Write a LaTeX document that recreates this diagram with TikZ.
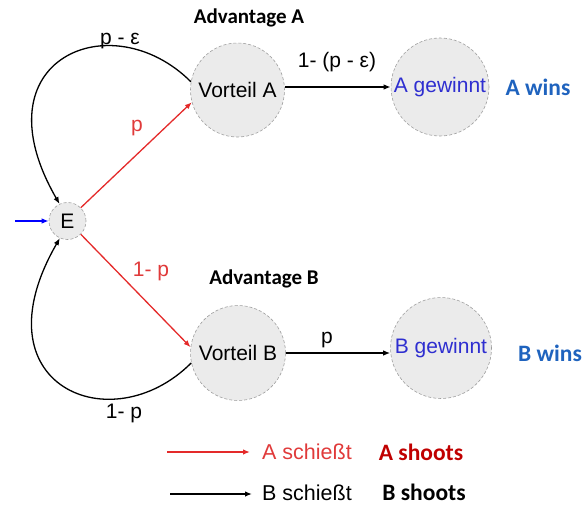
\documentclass[tikz,border=0pt]{standalone}
\usepackage{fontspec}
\setmainfont{Liberation Sans}
\newfontfamily\annot{Carlito}
\usetikzlibrary{arrows.meta,shapes.geometric}
\definecolor{arrred}{HTML}{E42A2A}
\definecolor{txtred}{HTML}{E03A3A}
\definecolor{darkred}{HTML}{C00000}
\definecolor{winblue}{HTML}{1F63BE}
\definecolor{gewblue}{HTML}{2E2ED0}
\definecolor{stfill}{HTML}{EBEBEB}
\tikzset{
  state/.style={circle, draw=gray!75, densely dashed, line width=0.6pt, fill=stfill, inner sep=0pt, font=\fontsize{21}{23}\selectfont},
  arr/.style={line width=1.3pt, -{Latex[length=7pt,width=5.5pt]}},
  lbl/.style={font=\fontsize{21}{23}\selectfont, inner sep=0pt},
  eng/.style={font=\annot\bfseries\fontsize{21}{23}\selectfont, inner sep=0pt},
  engbig/.style={font=\annot\bfseries\fontsize{23.5}{25}\selectfont, inner sep=0pt},
  leg/.style={font=\fontsize{21.5}{23}\selectfont, inner sep=0pt, anchor=west},
}
\begin{document}
\begin{tikzpicture}[x=1pt,y=1pt]
\useasboundingbox (0,0) rectangle (584,-506);
% states
\node[state, minimum size=37] (E) at (67.5,-221) {E};
\node[state, minimum size=94] (VA) at (237.5,-90) {Vorteil A};
\node[state, minimum size=98] (AG) at (440,-87) {\textcolor{gewblue}{A gewinnt}};
\node[state, minimum size=95] (VB) at (238,-353) {Vorteil B};
\node[state, minimum size=101] (BG) at (441,-348) {\textcolor{gewblue}{B gewinnt}};
% entry
\coordinate (in) at (15,-221);
\draw[arr, blue] (in) -- (E.west);
% red transitions
\draw[arr, arrred] (E.45) -- (VA.195);
\draw[arr, arrred] (E.-45) -- (VB.173);
\node[lbl, text=txtred] (lp) at (137,-128) {p};
\node[lbl, text=txtred] (l1p) at (151,-271) {1- p};
% loops
\draw[arr] (VA.170) to[out=135, in=120, out looseness=1.6, in looseness=2.4] (E.115);
\draw[arr] (VB.192) to[out=225, in=240, out looseness=1.6, in looseness=2.4] (E.246);
\node[lbl] (lpe) at (120,-41) {p - ε};
\node[lbl] (l1pb) at (124,-413) {1- p};
% wins
\draw[arr] (VA.east |- AG.west) -- (AG.west);
\draw[arr] (VB.east) -- (BG.west |- VB.east);
\node[lbl] (l1pe) at (337,-62) {1- (p - ε)};
\node[lbl] (lpw) at (327,-340) {p};
% english annotations
\node[eng] (advA) at (249,-18) {Advantage A};
\node[eng] (advB) at (264,-279) {Advantage B};
\node[engbig, text=winblue] (awins) at (538,-87) {A wins};
\node[engbig, text=winblue] (bwins) at (550,-353) {B wins};
% legend
\coordinate (la0) at (167,-452);
\coordinate (la1) at (250,-452);
\draw[arr, arrred] (la0) -- (la1);
\node[leg, text=txtred] (las) at (262,-452) {A schießt};
\node[engbig, text=darkred] (lae) at (421,-452) {A shoots};
\coordinate (lb0) at (170,-494);
\coordinate (lb1) at (252,-494);
\draw[arr] (lb0) -- (lb1);
\node[leg] (lbs) at (262,-493) {B schießt};
\node[engbig] (lbe) at (424,-492) {B shoots};
\end{tikzpicture}
\end{document}
